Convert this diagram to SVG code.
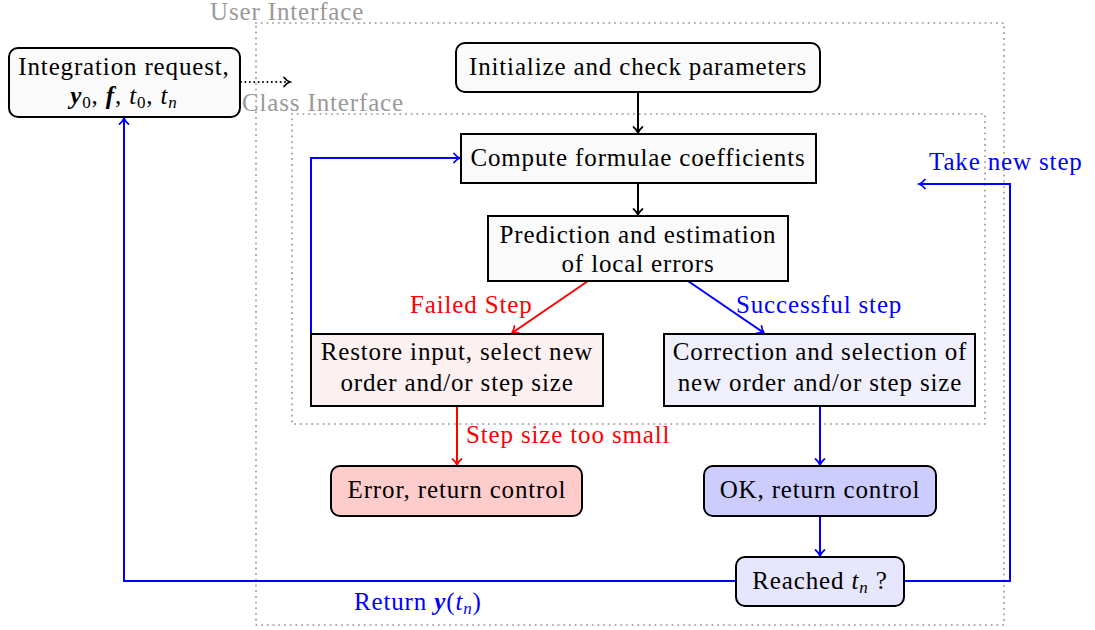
<svg xmlns="http://www.w3.org/2000/svg" width="1095" height="630" viewBox="0 0 1095 630">
<style>
.t{font-family:"Liberation Serif","Times New Roman",serif;font-size:25px;fill:#000;letter-spacing:0.85px}
.c{text-anchor:middle}
.bi{font-weight:bold;font-style:italic}
.it{font-style:italic}
.sub{font-size:17px}
.gray{fill:#999}
.red{fill:#ff0000}
.blue{fill:#0000ff}
.node{stroke:#000;stroke-width:2;fill:#fafafa}
.frame{fill:none;stroke:#aaa;stroke-width:2.2;stroke-dasharray:0 5.7;stroke-linecap:round}
.k{fill:none;stroke:#000;stroke-width:2}
.r{fill:none;stroke:#ff0000;stroke-width:2}
.b{fill:none;stroke:#0000ff;stroke-width:2}
</style>
<defs>
<marker id="ak" viewBox="-8 -6 10 12" refX="0" refY="0" markerWidth="10" markerHeight="12" markerUnits="userSpaceOnUse" orient="auto">
<path d="M-6 -4.5 C-4 -2 -1.5 -0.5 0 0 C-1.5 0.5 -4 2 -6 4.5" fill="none" stroke="#000" stroke-width="1.7" stroke-linecap="round"/>
</marker>
<marker id="ar" viewBox="-8 -6 10 12" refX="0" refY="0" markerWidth="10" markerHeight="12" markerUnits="userSpaceOnUse" orient="auto">
<path d="M-6 -4.5 C-4 -2 -1.5 -0.5 0 0 C-1.5 0.5 -4 2 -6 4.5" fill="none" stroke="#ff0000" stroke-width="1.7" stroke-linecap="round"/>
</marker>
<marker id="ab" viewBox="-8 -6 10 12" refX="0" refY="0" markerWidth="10" markerHeight="12" markerUnits="userSpaceOnUse" orient="auto">
<path d="M-6 -4.5 C-4 -2 -1.5 -0.5 0 0 C-1.5 0.5 -4 2 -6 4.5" fill="none" stroke="#0000ff" stroke-width="1.7" stroke-linecap="round"/>
</marker>
</defs>
<rect width="1095" height="630" fill="#fff"/>

<g id="frames">
<rect class="frame" x="256" y="23" width="748" height="602"/>
<text class="t gray" x="210" y="20">User Interface</text>
<rect class="frame" x="292" y="114" width="693" height="310"/>
<text class="t gray" x="242" y="111">Class Interface</text>
</g>

<g id="connectors">
<path d="M241 82 H287" fill="none" stroke="#000" stroke-width="2" stroke-dasharray="0 4.4" stroke-linecap="round"/>
<path d="M282 82 H290" class="k" marker-end="url(#ak)" stroke-opacity="0"/>
<path class="k" d="M638 92 V133" marker-end="url(#ak)"/>
<path class="k" d="M638 183 V215" marker-end="url(#ak)"/>
<path class="r" d="M588 281 L512 333" marker-end="url(#ar)"/>
<path class="b" d="M688 281 L764 333" marker-end="url(#ab)"/>
<path class="r" d="M457 406 V465" marker-end="url(#ar)"/>
<path class="b" d="M820 406 V465" marker-end="url(#ab)"/>
<path class="b" d="M820 516 V556" marker-end="url(#ab)"/>
<path class="b" d="M736 581 H124 V118" marker-end="url(#ab)"/>
<path class="b" d="M904 581 H1010 V184 H919" marker-end="url(#ab)"/>
<path class="b" d="M311 370 V158 H460" marker-end="url(#ab)"/>
<text class="t red" x="410" y="313">Failed Step</text>
<text class="t blue" x="736" y="313">Successful step</text>
<text class="t red" x="466" y="443">Step size too small</text>
<text class="t blue" x="929" y="170">Take new step</text>
<text class="t blue" x="354" y="610">Return <tspan class="bi">y</tspan>(<tspan class="it">t</tspan><tspan class="sub it" dy="4">n</tspan><tspan dy="-4">)</tspan></text>
</g>

<g id="n-request">
<rect class="node" x="9" y="48" width="231" height="69" rx="9"/>
<text class="t c" x="124" y="75">Integration request,</text>
<text class="t c" x="124" y="104"><tspan class="bi">y</tspan><tspan class="sub" dy="4">0</tspan><tspan dy="-4">, </tspan><tspan class="bi">f</tspan><tspan>, </tspan><tspan class="it">t</tspan><tspan class="sub" dy="4">0</tspan><tspan dy="-4">, </tspan><tspan class="it">t</tspan><tspan class="sub it" dy="4">n</tspan></text>
</g>

<g id="n-init">
<rect class="node" x="456" y="43" width="364" height="49" rx="9"/>
<text class="t c" x="638" y="75">Initialize and check parameters</text>
</g>

<g id="n-compute">
<rect class="node" x="461" y="134" width="355" height="49"/>
<text class="t c" x="638" y="166">Compute formulae coefficients</text>
</g>

<g id="n-predict">
<rect class="node" x="488" y="216" width="300" height="65"/>
<text class="t c" x="638" y="243">Prediction and estimation</text>
<text class="t c" x="638" y="272">of local errors</text>
</g>

<g id="n-restore">
<rect class="node" x="311" y="334" width="292" height="72" style="fill:#fdf0f0"/>
<text class="t c" x="457" y="360">Restore input, select new</text>
<text class="t c" x="457" y="391">order and/or step size</text>
</g>

<g id="n-correct">
<rect class="node" x="664" y="334" width="311" height="72" style="fill:#f0f0fd"/>
<text class="t c" x="820" y="360">Correction and selection of</text>
<text class="t c" x="820" y="391">new order and/or step size</text>
</g>

<g id="n-error">
<rect class="node" x="331" y="466" width="251" height="50" rx="9" style="fill:#ffcccc"/>
<text class="t c" x="457" y="498">Error, return control</text>
</g>

<g id="n-ok">
<rect class="node" x="704" y="466" width="232" height="50" rx="9" style="fill:#ccccff"/>
<text class="t c" x="820" y="498">OK, return control</text>
</g>

<g id="n-reached">
<rect class="node" x="736" y="557" width="168" height="49" rx="9" style="fill:#e6e6ff"/>
<text class="t c" x="820" y="589">Reached <tspan class="it">t</tspan><tspan class="sub it" dy="4">n</tspan><tspan dy="-4"> ?</tspan></text>
</g>
</svg>
